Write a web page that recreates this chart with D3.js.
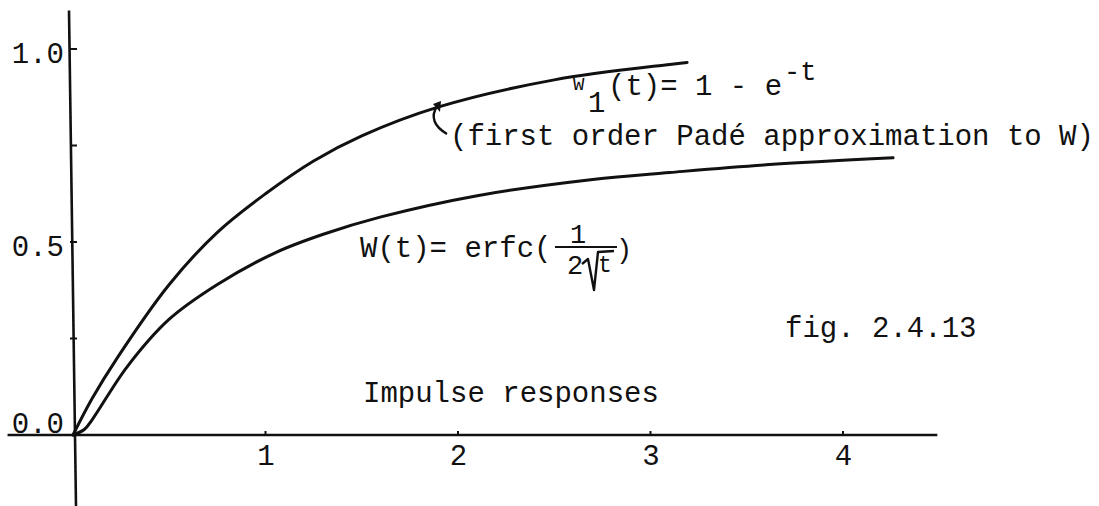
<!DOCTYPE html>
<html>
<head>
<meta charset="utf-8">
<script src="https://cdn.jsdelivr.net/npm/d3@7"></script>
<style>
  html, body { margin: 0; padding: 0; background: #fff; }
  svg { display: block; }
  text { font-family: "Liberation Mono", "DejaVu Sans Mono", monospace; fill: #111; }
</style>
</head>
<body>
<svg id="chart" width="1099" height="506"></svg>
<script>
// Sampled impulse responses (t, value)
const w1T = [0, 0.10, 0.23, 0.50, 0.75, 1.00, 1.25, 1.50, 1.90, 2.50, 3.10, 3.19];
const w1V = [0, 0.095, 0.200, 0.390, 0.525, 0.625, 0.710, 0.775, 0.850, 0.920, 0.960, 0.965];

const wT = [0, 0.06, 0.10, 0.28, 0.50, 0.75, 1.05, 1.30, 1.60, 2.10, 2.70, 3.10, 3.60, 4.26];
const wV = [0, 0.015, 0.040, 0.176, 0.300, 0.390, 0.472, 0.520, 0.565, 0.620, 0.662, 0.680, 0.700, 0.718];

const xTicks = [1, 2, 3, 4];
const xTickLabels = ["1", "2", "3", "4"];
const yTicks = [0.25, 0.5, 0.75, 1.0];
const yTickValues = [0.0, 0.5, 1.0];
const yTickLabels = ["0.0", "0.5", "1.0"];

const svg = d3.select("#chart");
const ink = "#111";

const x = d3.scaleLinear().domain([0, 4]).range([73, 843]);
const y = d3.scaleLinear().domain([0, 1]).range([435, 49]);

// Axis lines
const axes = svg.append("g").attr("stroke", ink).attr("stroke-width", 2.6).attr("fill", "none");
axes.append("line")
  .attr("x1", x(-0.34)).attr("x2", x(4.49))
  .attr("y1", y(0)).attr("y2", y(0));
axes.append("line")
  .attr("x1", x(0) - 4).attr("x2", x(0) + 3)
  .attr("y1", y(1.1)).attr("y2", 506);

// Small tick marks crossing the axes
axes.selectAll(".xt").data(xTicks).join("line")
  .attr("x1", d => x(d)).attr("x2", d => x(d))
  .attr("y1", y(0) - 4).attr("y2", y(0) + 1)
  .attr("stroke-width", 2);
axes.selectAll(".yt").data(yTicks).join("line")
  .attr("x1", x(0) - 3).attr("x2", x(0) + 4)
  .attr("y1", d => y(d)).attr("y2", d => y(d))
  .attr("stroke-width", 2);

// Tick labels via d3 axes (domain and tick lines hidden)
const xAxis = d3.axisBottom(x).tickValues(xTicks).tickFormat((d, i) => xTickLabels[i]).tickSize(0).tickPadding(0);
const gx = svg.append("g").attr("transform", `translate(0,${y(0)})`).call(xAxis);
gx.select(".domain").remove();
gx.selectAll("text")
  .attr("font-family", "Liberation Mono, monospace")
  .attr("font-size", 29).attr("fill", ink)
  .attr("dy", 0).attr("y", 30);

const yAxis = d3.axisLeft(y).tickValues(yTickValues).tickFormat((d, i) => yTickLabels[i]).tickSize(0).tickPadding(0);
const gy = svg.append("g").attr("transform", `translate(${x(0) - 9},0)`).call(yAxis);
gy.select(".domain").remove();
gy.selectAll("text")
  .attr("font-family", "Liberation Mono, monospace")
  .attr("font-size", 29).attr("fill", ink)
  .attr("dy", d => d === 0 ? -3 : 13).attr("x", 0);

// Curves
const line = d3.line()
  .x(d => x(d[0]))
  .y(d => y(d[1]))
  .curve(d3.curveCatmullRom.alpha(0.5));

const curves = svg.append("g").attr("fill", "none").attr("stroke", ink)
  .attr("stroke-width", 3).attr("stroke-linecap", "round").attr("stroke-linejoin", "round");
curves.append("path").attr("d", line(w1T.map((t, i) => [t, w1V[i]])));
curves.append("path").attr("d", line(wT.map((t, i) => [t, wV[i]])));

// Labels
const fs = 29;
const txt = (s, px, py, size = fs, anchor = "start") =>
  svg.append("text").attr("x", px).attr("y", py).attr("font-size", size)
    .attr("text-anchor", anchor).text(s);

// W1(t) = 1 - e^-t
txt("W", 573, 90, 19);
txt("1", 588, 112, fs);
txt("(t)= 1 - e", 608, 95, fs);
txt("-t", 784, 80, 27);
txt("(first order Pad\u00e9 approximation to W)", 450, 145, fs);

// pointer from label to the upper curve
svg.append("path")
  .attr("d", "M437,106 Q427,122 447,134")
  .attr("fill", "none").attr("stroke", ink).attr("stroke-width", 2.4);
svg.append("path")
  .attr("d", "M433,104 L441,101 L440,112 Z")
  .attr("fill", ink);

// W(t) = erfc(1 / 2 sqrt t)
txt("W(t)= erfc(", 360, 257, fs);
txt("1", 570, 243, 27);
svg.append("line").attr("x1", 555).attr("x2", 617).attr("y1", 247).attr("y2", 247)
  .attr("stroke", ink).attr("stroke-width", 2.2);
svg.append("text").attr("x", 567).attr("y", 274).attr("font-size", 27)
  .attr("font-family", "DejaVu Sans, sans-serif").text("2");
svg.append("path")
  .attr("d", "M582,264 L588,259 L594,290 L598,252 L614,251")
  .attr("fill", "none").attr("stroke", ink).attr("stroke-width", 2.4).attr("stroke-linejoin", "round");
svg.append("text").attr("x", 598).attr("y", 272).attr("font-size", 23)
  .attr("font-family", "DejaVu Sans, sans-serif").text("t");
txt(")", 616, 258, 27);

txt("fig. 2.4.13", 785, 337, fs);
txt("Impulse responses", 363, 402, fs);
</script>
</body>
</html>
